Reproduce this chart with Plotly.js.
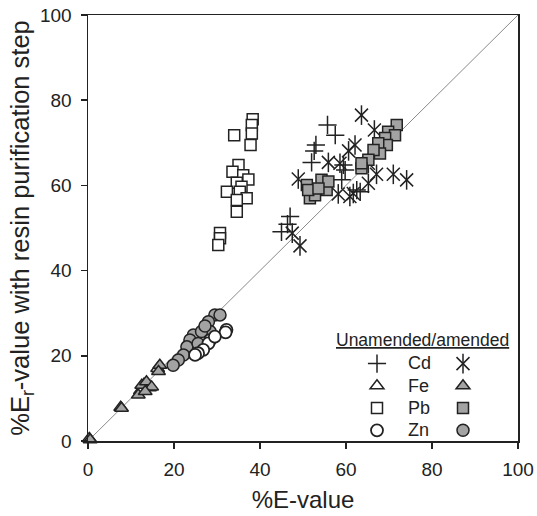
<!DOCTYPE html>
<html>
<head>
<meta charset="utf-8">
<script src="https://cdn.plot.ly/plotly-3.0.1.min.js"></script>
<style>html,body{margin:0;padding:0;background:#fff;}#chart{width:537px;height:516px;}</style>
</head>
<body>
<div id="chart"></div>
<script>
// ---- data ----
var elements = ["Cd", "Fe", "Pb", "Zn"];

var cdUnX = [55.7, 57.5, 53.0, 52.6, 52.0, 59.4, 59.0, 63.3, 59.8, 62.5, 47.0, 46.4, 45.0];
var cdUnY = [74.2, 71.8, 69.5, 68.1, 65.4, 64.8, 61.3, 58.5, 63.6, 58.9, 52.7, 50.9, 49.1];
var cdAmX = [63.6, 66.6, 62.1, 60.6, 55.9, 58.6, 65.2, 48.9, 60.9, 58.2, 67.1, 71.0, 74.1, 65.2, 61.7, 47.5, 49.3];
var cdAmY = [76.5, 73.0, 69.5, 68.1, 65.4, 65.2, 65.2, 61.5, 57.4, 58.0, 62.6, 62.6, 61.3, 60.5, 58.1, 48.8, 45.8];

var feUnX = [0.3, 7.6, 12.2, 13.0, 14.3, 16.2];
var feUnY = [0.6, 7.9, 11.8, 13.3, 12.5, 17.0];
var feAmX = [0.5, 7.8, 11.7, 12.5, 13.6, 14.8, 13.3, 16.7, 16.4];
var feAmY = [0.3, 7.7, 10.8, 13.1, 13.9, 12.7, 11.6, 17.8, 16.3];

var pbUnX = [38.3, 38.1, 38.1, 34.0, 37.8, 35.0, 33.6, 36.1, 37.3, 34.6, 35.7, 32.3, 35.3, 36.9, 34.6, 34.6, 30.7, 30.7, 30.3];
var pbUnY = [75.5, 74.2, 72.2, 71.8, 69.5, 64.8, 63.2, 62.4, 61.4, 60.6, 59.7, 58.5, 58.5, 57.0, 56.6, 53.8, 48.8, 47.6, 46.0];
var pbAmX = [50.9, 51.6, 54.3, 55.5, 52.8, 55.9, 51.2, 53.6, 71.8, 69.8, 71.4, 69.1, 69.5, 67.5, 67.9, 66.4, 65.2, 63.6, 63.6];
var pbAmY = [60.1, 57.0, 61.3, 58.9, 57.7, 60.9, 58.9, 59.3, 74.2, 72.6, 71.8, 71.1, 69.5, 69.9, 67.5, 68.3, 66.0, 64.0, 65.2];

var znUnX = [32.2, 32.0, 28.4, 28.0, 26.8, 25.6, 24.9, 29.5];
var znUnY = [26.1, 25.5, 23.7, 22.9, 21.4, 20.6, 20.2, 24.5];
var znAmX = [29.5, 30.7, 28.0, 28.4, 24.5, 23.7, 23.0, 22.2, 21.0, 19.8, 26.4, 25.6, 27.2];
var znAmY = [29.6, 29.6, 28.0, 25.7, 24.9, 23.7, 22.1, 20.2, 19.0, 17.8, 25.7, 22.9, 27.0];

var tickVals = [0, 20, 40, 60, 80, 100];
var tickText = ["0", "20", "40", "60", "80", "100"];

// ---- styling ----
var INK = "#222";
var GREY = "#a3a3a3";
var FONT = "Liberation Sans, Arial, sans-serif";

function lbl(s) { return '<span style="font-size:18px">' + s + '</span>'; }

function mk(x, y, name, legend, symbol, size, fill, lw, rank) {
  return {
    type: "scatter", mode: "markers", x: x, y: y, name: name,
    legend: legend, legendrank: rank, cliponaxis: false, hoverinfo: "x+y",
    marker: { symbol: symbol, size: size, color: fill, line: { color: INK, width: lw } }
  };
}

var traces = [
  mk(cdUnX, cdUnY, lbl(elements[0]), "legend", "cross-thin-open", 13, INK, 1.5, 1),
  mk(cdAmX, cdAmY, " ", "legend2", "x-thin-open", 13, INK, 1.5, 1),
  mk(cdAmX, cdAmY, " ", "legend3", "line-ns-open", 14, INK, 1.5, 1),
  mk(feUnX, feUnY, lbl(elements[1]), "legend", "triangle-up", 12, "#fff", 1.5, 2),
  mk(feAmX, feAmY, " ", "legend2", "triangle-up", 12, GREY, 1.5, 2),
  mk(pbUnX, pbUnY, lbl(elements[2]), "legend", "square", 11, "#fff", 1.5, 3),
  mk(pbAmX, pbAmY, " ", "legend2", "square", 11, GREY, 1.5, 3),
  mk(znAmX, znAmY, " ", "legend2", "circle", 12, GREY, 1.5, 4),
  mk(znUnX, znUnY, lbl(elements[3]), "legend", "circle", 12, "#fff", 1.8, 4)
];

var legBase = {
  font: { family: FONT, size: 14.8, color: INK },
  bgcolor: "rgba(0,0,0,0)", borderwidth: 0,
  xanchor: "left", yanchor: "top", y: 0.2195,
  itemwidth: 52, itemclick: false, itemdoubleclick: false
};
function leg(x) { var o = JSON.parse(JSON.stringify(legBase)); o.x = x; return o; }

var axisBase = {
  range: [0, 100], tickmode: "array", tickvals: tickVals, ticktext: tickText,
  ticks: "outside", ticklen: 6, tickwidth: 1.5, tickcolor: INK,
  showline: true, linecolor: INK, linewidth: 1.5, mirror: true,
  showgrid: false, zeroline: false, fixedrange: true, ticklabelstandoff: 5,
  tickfont: { family: FONT, size: 19, color: INK }
};
var xa = JSON.parse(JSON.stringify(axisBase));
xa.title = { text: "%E-value", font: { family: FONT, size: 24, color: INK }, standoff: 12 };
var ya = JSON.parse(JSON.stringify(axisBase));
ya.title = { text: "%E<sub>r</sub>-value with resin purification step", font: { family: FONT, size: 25.5, color: INK }, standoff: 3 };

var layout = {
  width: 537, height: 516,
  margin: { l: 88, r: 19, t: 15, b: 75 },
  paper_bgcolor: "#fff", plot_bgcolor: "#fff",
  font: { family: FONT, color: INK },
  xaxis: xa, yaxis: ya,
  legend: leg(0.6), legend2: leg(0.8), legend3: leg(0.8),
  shapes: [{ type: "line", xref: "x", yref: "y", x0: 0, y0: 0, x1: 100, y1: 100,
             line: { color: "#8a8a8a", width: 1 }, layer: "below" }],
  annotations: [{ xref: "paper", yref: "paper", x: 0.777, y: 0.237, xanchor: "center", yanchor: "middle",
                  text: "<u>Unamended/amended</u>", showarrow: false,
                  font: { family: FONT, size: 17.5, color: INK } }]
};

Plotly.newPlot("chart", traces, layout, { displayModeBar: false, staticPlot: true });
</script>
</body>
</html>
